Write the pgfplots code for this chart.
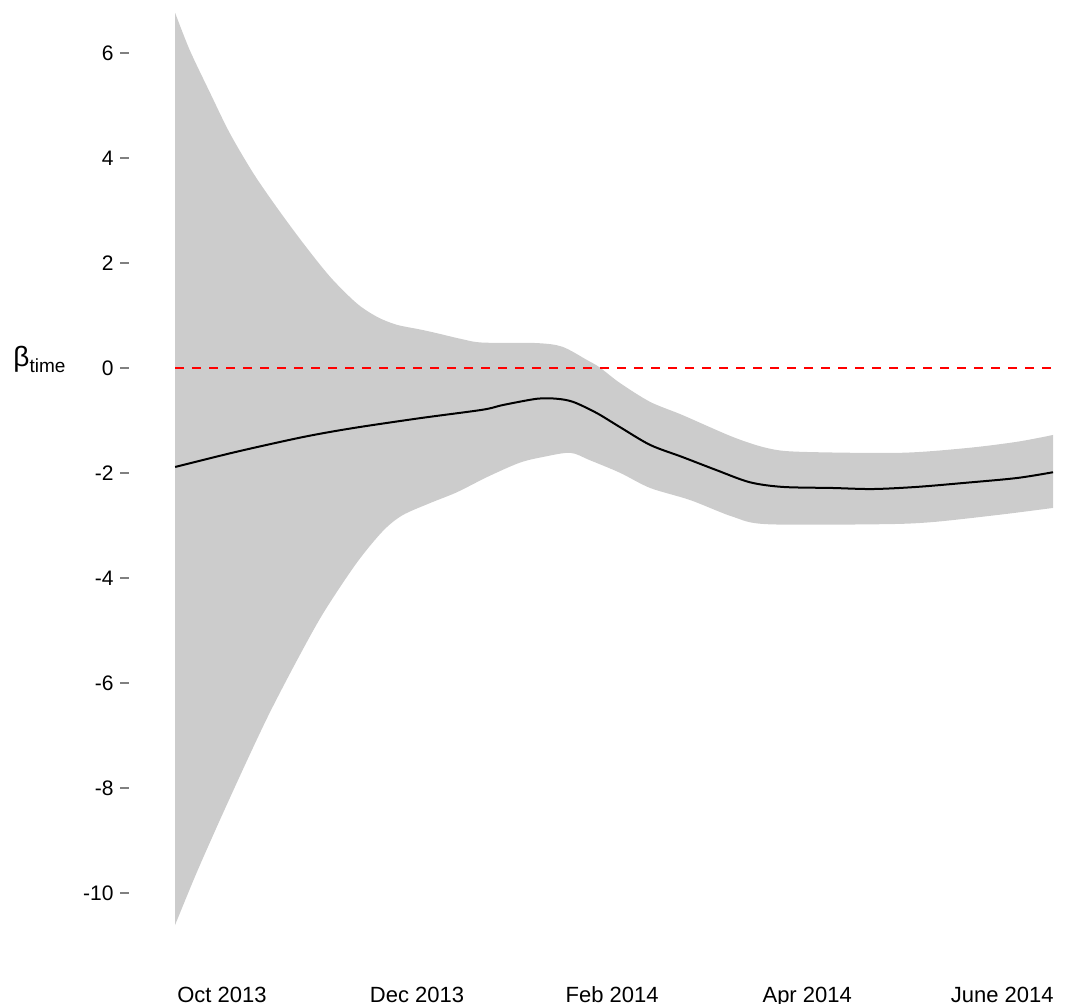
\documentclass[border=0pt]{standalone}
\usepackage{fontspec}
\setmainfont{Liberation Sans}
\usepackage{pgfplots}
\pgfplotsset{compat=1.18}
\usepgfplotslibrary{fillbetween}

% x in months after Oct 2013
\begin{document}
\begin{tikzpicture}
\begin{axis}[
  name=ax,
  scale only axis,
  width=462.5pt, height=459.35pt,
  xmin=-0.953, xmax=8.53,
  ymin=-10.65, ymax=6.85,
  axis line style={draw=none},
  clip=false,
  xtick={0,2,4,6,8},
  xticklabels={Oct 2013,Dec 2013,Feb 2014,Apr 2014,June 2014},
  x tick style={draw=none},
  xticklabel style={font=\fontsize{11}{11}\selectfont, anchor=base, yshift=-33pt},
  ytick={-10,-8,-6,-4,-2,0,2,4,6},
  yticklabels={-10,-8,-6,-4,-2,0,2,4,6},
  ytick pos=left,
  tick align=outside,
  major tick length=4.5pt,
  y tick style={draw=gray, line width=0.9pt},
  yticklabel style={font=\fontsize{10.5}{10.5}\selectfont, anchor=east, inner sep=0pt, xshift=-3pt},
]
\addplot[name path=up, draw=none, smooth, tension=0.5] coordinates {
  (-0.48,6.77) (-0.33,6.06) (-0.12,5.24) (0.08,4.48) (0.32,3.72)
  (0.56,3.07) (0.83,2.39) (1.11,1.74) (1.38,1.24) (1.59,0.98)
  (1.79,0.83) (2.03,0.74) (2.20,0.67) (2.45,0.56) (2.67,0.49)
  (3.23,0.48) (3.49,0.41) (3.74,0.16) (3.87,0.02) (4.08,-0.28)
  (4.39,-0.64) (4.72,-0.89) (5.24,-1.31) (5.59,-1.52) (5.92,-1.59)
  (6.95,-1.61) (7.63,-1.52) (8.15,-1.40) (8.52,-1.27)
};
\addplot[name path=lo, draw=none, smooth, tension=0.5] coordinates {
  (-0.48,-10.60) (-0.46,-10.51) (-0.26,-9.61) (-0.02,-8.60) (0.26,-7.46)
  (0.49,-6.56) (0.77,-5.56) (1.04,-4.66) (1.38,-3.71) (1.65,-3.10)
  (1.85,-2.80) (2.13,-2.57) (2.41,-2.36) (2.72,-2.07) (3.05,-1.80)
  (3.29,-1.69) (3.57,-1.61) (3.77,-1.75) (4.08,-1.99) (4.39,-2.28)
  (4.80,-2.51) (5.24,-2.83) (5.59,-2.97) (6.77,-2.97) (7.28,-2.93)
  (7.97,-2.79) (8.52,-2.66)
};
\addplot[fill=gray!40, draw=none] fill between[of=up and lo];
\addplot[red, line width=1pt, dash pattern=on 4.5pt off 4pt] coordinates {(-0.48,0) (8.52,0)};
\addplot[black, line width=1pt, smooth, tension=0.5] coordinates {
  (-0.48,-1.88) (0.15,-1.59) (0.83,-1.31) (1.34,-1.14) (2.03,-0.95)
  (2.67,-0.79) (2.88,-0.70) (3.23,-0.58) (3.43,-0.58) (3.60,-0.64)
  (3.84,-0.85) (4.08,-1.12) (4.39,-1.46) (4.72,-1.69) (5.07,-1.94)
  (5.41,-2.17) (5.75,-2.26) (6.26,-2.28) (6.67,-2.30) (7.12,-2.26)
  (7.63,-2.18) (8.15,-2.09) (8.52,-1.98)
};
\end{axis}
\node[anchor=base west, inner sep=0pt] at ([shift={(-58pt,280.2pt)}]ax.south west)
  {\fontsize{14}{14}\selectfont β\raisebox{-3pt}{\fontsize{9.5}{9.5}\selectfont time}};
\pgfresetboundingbox
\path ([shift={(-64.5pt,-38.3pt)}]ax.south west) rectangle ([shift={(7.5pt,4.35pt)}]ax.north east);
\end{tikzpicture}
\end{document}
